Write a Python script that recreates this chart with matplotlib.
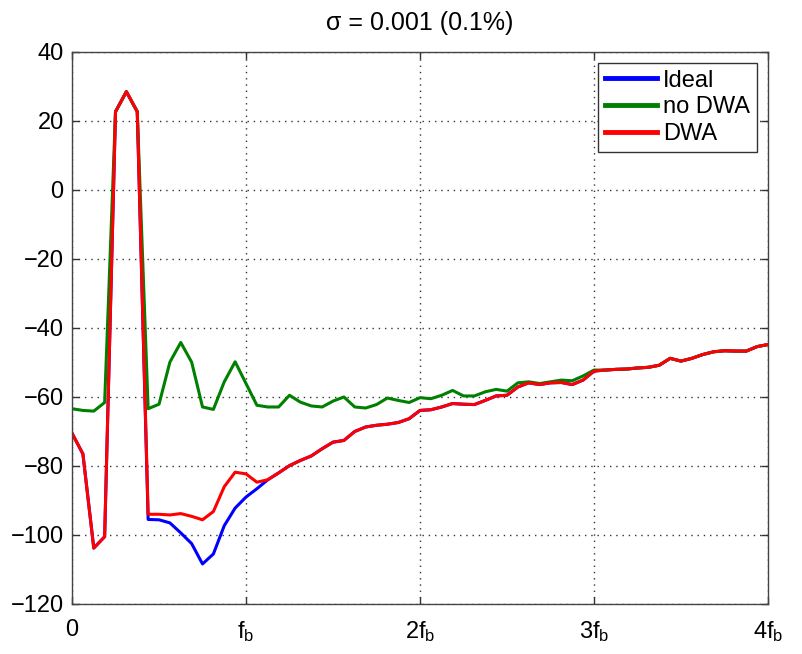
import matplotlib.pyplot as plt
import numpy as np

plt.rcParams['font.family'] = ['Liberation Sans', 'DejaVu Sans']
plt.rcParams['mathtext.fontset'] = 'custom'
plt.rcParams['mathtext.rm'] = 'Liberation Sans'
plt.rcParams['mathtext.it'] = 'Liberation Sans'

# frequency axis in units of fb (16 bins per fb)
freq = np.linspace(0, 4, 65)

dwa = [-70.5, -76.5, -103.8, -100.5, 22.7, 28.5, 22.7, -94.0, -94.0, -94.2,
       -93.8, -94.6, -95.6, -93.2, -86.0, -81.8, -82.3, -84.7, -84.0, -82.0,
       -79.9, -78.4, -77.1, -75.0, -73.1, -72.6, -70.0, -68.7, -68.2, -67.9,
       -67.4, -66.3, -63.9, -63.7, -62.9, -61.9, -62.1, -62.2, -61.0, -59.7,
       -59.5, -57.1, -55.9, -56.4, -55.9, -55.8, -56.4, -55.1, -52.5, -52.2,
       -52.0, -51.9, -51.6, -51.4, -50.8, -48.8, -49.6, -48.8, -47.7, -46.9,
       -46.6, -46.7, -46.7, -45.4, -44.8]

ideal = [-70.5, -76.5, -103.8, -100.5, 22.7, 28.5, 22.7, -95.5, -95.6, -96.5,
         -99.4, -102.5, -108.4, -105.5, -97.3, -92.2, -89.0, -86.6, -84.0, -82.0,
         -79.9, -78.4, -77.1, -75.0, -73.1, -72.6, -70.0, -68.7, -68.2, -67.9,
         -67.4, -66.3, -63.9, -63.7, -62.9, -61.9, -62.1, -62.2, -61.0, -59.7,
         -59.5, -57.1, -55.9, -56.4, -55.9, -55.8, -56.4, -55.1, -52.5, -52.2,
         -52.0, -51.9, -51.6, -51.4, -50.8, -48.8, -49.6, -48.8, -47.7, -46.9,
         -46.6, -46.7, -46.7, -45.4, -44.8]

no_dwa = [-63.4, -63.9, -64.1, -61.6, 22.7, 28.5, 22.7, -63.4, -62.1, -49.9,
          -44.2, -49.9, -62.9, -63.6, -55.6, -49.8, -56.1, -62.4, -62.9, -62.9,
          -59.5, -61.5, -62.6, -62.9, -61.2, -60.0, -62.9, -63.2, -62.2, -60.3,
          -61.0, -61.6, -60.2, -60.5, -59.5, -58.1, -59.7, -59.7, -58.5, -57.8,
          -58.3, -55.9, -55.6, -56.1, -55.6, -55.1, -55.3, -53.9, -52.2, -52.2,
          -52.0, -51.9, -51.6, -51.4, -50.8, -48.8, -49.6, -48.8, -47.7, -46.9,
          -46.6, -46.7, -46.7, -45.4, -44.8]

xtick_pos = [0, 1, 2, 3, 4]
xtick_labels = ['0', r'$\mathregular{f_b}$', r'$\mathregular{2f_b}$',
                r'$\mathregular{3f_b}$', r'$\mathregular{4f_b}$']
ytick_pos = [-120, -100, -80, -60, -40, -20, 0, 20, 40]

fig = plt.figure(figsize=(8.02, 6.54), dpi=100)
ax = fig.add_axes([0.0898, 0.0765, 0.8678, 0.844])

ax.plot(freq, ideal, color='#0000ff', lw=2.2, label='Ideal')
ax.plot(freq, no_dwa, color='#008000', lw=2.2, label='no DWA')
ax.plot(freq, dwa, color='#ff0000', lw=2.2, label='DWA')

ax.set_xlim(0, 4)
ax.set_ylim(-120, 40)
ax.set_xticks(xtick_pos)
ax.set_xticklabels(xtick_labels)
ax.set_yticks(ytick_pos)
ax.tick_params(direction='in', length=5, width=1, labelsize=17,
               top=True, right=True, colors='#333333', labelcolor='black')
ax.tick_params(axis='x', pad=11)
ax.tick_params(axis='y', pad=6)
ax.grid(True, linestyle=(0, (1, 3.5)), color='#333333', lw=1)
for sp in ax.spines.values():
    sp.set_color('#444444')
    sp.set_linewidth(1)

ax.set_title('σ = 0.001 (0.1%)', fontsize=18, pad=16)

leg = ax.legend(loc='upper right', fontsize=17, handlelength=2.2,
                handletextpad=0.25, labelspacing=0.2, borderpad=0.3,
                borderaxespad=0.45, fancybox=False, framealpha=1)
leg.get_frame().set_edgecolor('#333333')
leg.get_frame().set_linewidth(1)
for line in leg.get_lines():
    line.set_linewidth(3.5)

fig.savefig('out.png', dpi=100)
